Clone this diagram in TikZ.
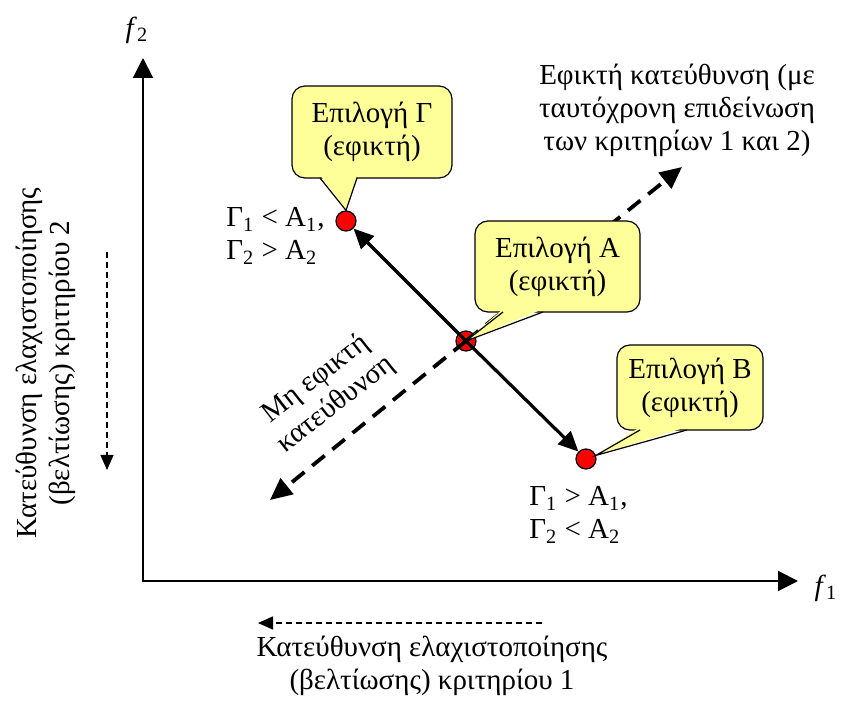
\documentclass[tikz,border=0pt]{standalone}
\usepackage{fontspec}
\setmainfont{Liberation Serif}
\usetikzlibrary{arrows.meta,calc}
\definecolor{bubfill}{RGB}{255,255,153}
\newcommand{\lblsize}{\fontsize{14.5}{16.5}\selectfont}
% pointer of a speech bubble: box, left and right offset of its base, tip
\newcommand{\bubtip}[4]{%
  \fill[bubfill] ($(#1.south west)+(#2,-3)$) -- (#4) -- ($(#1.south west)+(#3,-3)$) -- cycle;
  \draw[line width=0.6pt] ($(#1.south west)+(#2,0)$) -- (#4) -- ($(#1.south west)+(#3,0)$);
}
\tikzset{
  axis/.style={line width=1pt, {Triangle[length=10pt,width=10pt]}-{Triangle[length=10pt,width=10pt]}},
  dot/.style={circle, draw=black, fill=red, line width=0.6pt, minimum size=10pt, inner sep=0pt},
  move/.style={line width=1.6pt, -{Triangle[length=10pt,width=9pt]}},
  trend/.style={line width=1.9pt, dash pattern=on 8pt off 5pt, -{Triangle[length=11pt,width=10pt]}},
  hint/.style={line width=0.7pt, dash pattern=on 3pt off 2pt, -{Triangle[length=7.5pt,width=6.5pt]}},
  bubble/.style={draw, fill=bubfill, rounded corners=6.5pt, line width=0.6pt, align=center,
                 font=\lblsize, inner sep=0pt, outer sep=0pt},
  lbl/.style={font=\lblsize, align=center, inner sep=0pt},
}
\begin{document}
\begin{tikzpicture}[x=0.5pt, y=-0.5pt]
  \useasboundingbox (0,0) rectangle (841,715);
  % axes
  \coordinate (O) at (143,581);
  \coordinate (ytip) at (143,58);
  \coordinate (xtip) at (798,581);
  \draw[axis] (ytip) -- (O) -- (xtip);
  \node[lbl] (f2) at (137,30) {\textit{f}\textsubscript{2}};
  \node[lbl] (f1) at (826,588) {\textit{f}\textsubscript{1}};
  % options
  \node[dot] (G) at (346,221) {};
  \node[dot] (A) at (466,341) {};
  \node[dot] (B) at (586,459) {};
  % directions through A
  \coordinate (up) at (682,167);
  \coordinate (dn) at (270,500);
  \draw[trend] (A.center) -- (up);
  \draw[trend] (A.center) -- (dn);
  \draw[move] (A.center) -- (G);
  \draw[move] (A.center) -- (B);
  % bubbles
  \node[bubble, minimum width=80pt, minimum height=46pt] (bG) at (372,132) {Επιλογή Γ\\(εφικτή)};
  \bubtip{bG}{28}{65}{G.north}
  \node[bubble, minimum width=82.5pt, minimum height=45.5pt] (bA) at (557.5,266.5) {Επιλογή Α\\(εφικτή)};
  \bubtip{bA}{28}{68}{A.center}
  \node[bubble, minimum width=73pt, minimum height=42.5pt] (bB) at (690,387.5) {Επιλογή Β\\(εφικτή)};
  \bubtip{bB}{23}{70}{B.20}
  % comparisons
  \node[lbl, align=left, anchor=west] (cG) at (226,236) {Γ\textsubscript{1} < Α\textsubscript{1},\\Γ\textsubscript{2} > Α\textsubscript{2}};
  \node[lbl, align=left, anchor=west] (cB) at (529,515) {Γ\textsubscript{1} > Α\textsubscript{1},\\Γ\textsubscript{2} < Α\textsubscript{2}};
  % direction labels
  \node[lbl] (feas) at (677,110) {Εφικτή κατεύθυνση (με\\ταυτόχρονη επιδείνωση\\των κριτηρίων 1 και 2)};
  \node[lbl, rotate=38] (nofeas) at (326,392) {Μη εφικτή\\κατεύθυνση};
  % minimisation hints
  \coordinate (h2a) at (107,252);
  \coordinate (h2b) at (107,470);
  \draw[hint] (h2a) -- (h2b);
  \node[lbl, rotate=90] (ylbl) at (46,363) {Κατεύθυνση ελαχιστοποίησης\\(βελτίωσης) κριτηρίου 2};
  \coordinate (h1a) at (542,623);
  \coordinate (h1b) at (258,623);
  \draw[hint] (h1a) -- (h1b);
  \node[lbl] (xlbl) at (432,666) {Κατεύθυνση ελαχιστοποίησης\\(βελτίωσης) κριτηρίου 1};
\end{tikzpicture}
\end{document}
